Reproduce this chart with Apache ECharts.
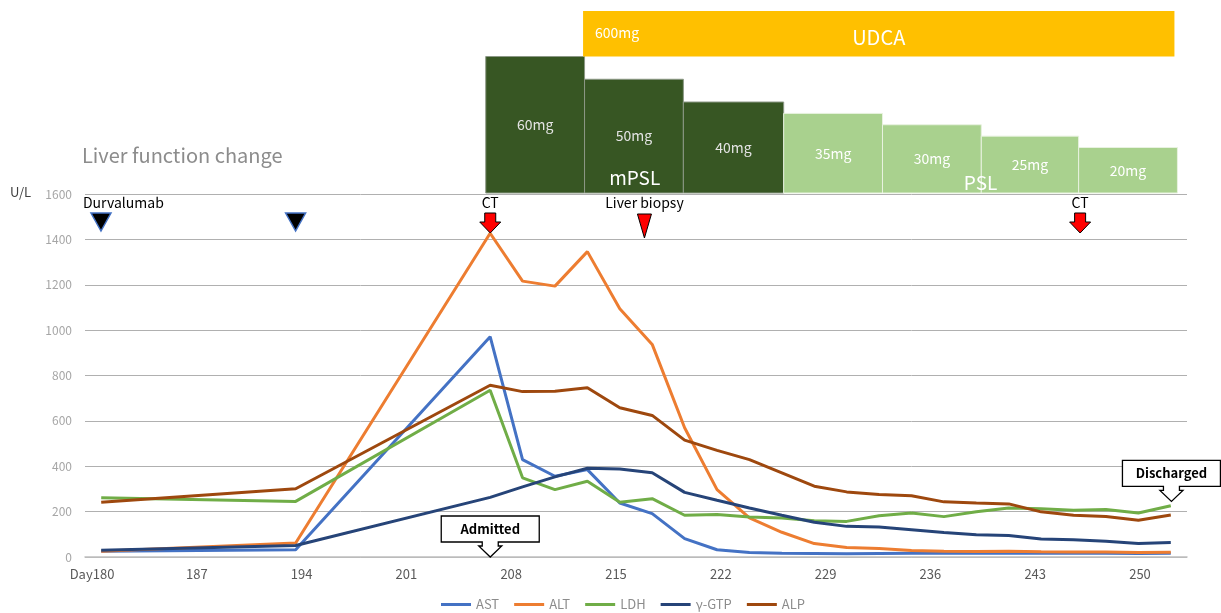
<!DOCTYPE html>
<html>
<head>
<meta charset="utf-8">
<title>Liver function change</title>
<script src="https://cdn.jsdelivr.net/npm/echarts@6.0.0/dist/echarts.min.js"></script>
<style>
html, body { margin: 0; padding: 0; background: #fff; }
#main { width: 1221px; height: 613px; }
</style>
</head>
<body>
<div id="main"></div>
<script>
var FONT = '"Noto Sans CJK JP", "Noto Sans", sans-serif';

// sample points (approx. day of each blood test)
var sampleDays = ['181','183','185','187','189','191','194','196','198','200','202','204',
  '207','209','211','213','215','217','220','222','224','226','228','230','233','235',
  '237','239','241','243','246','248','250','252'];
var xTickLabels = ['Day180','187','194','201','208','215','222','229','236','243','250'];

var ast = [25, null, null, null, null, null, 32, null, null, null, null, null,
  971, 429, 356, 385, 238, 191, 81, 32, 20, 16, 15, 14, 15, 16, 16, 17, 17, 17, 16, 16, 15, 17];
var alt = [25, null, null, null, null, null, 62, null, null, null, null, null,
  1427, 1216, 1194, 1346, 1094, 937, 570, 297, 172, 109, 59, 42, 37, 29, 25, 24, 25, 23, 22, 22, 20, 21];
var ldh = [261, null, null, null, null, null, 245, null, null, null, null, null,
  735, 349, 297, 334, 241, 257, 184, 187, 176, 172, 160, 157, 182, 194, 178, 199, 216, 213, 206, 209, 194, 226];
var gtp = [30, null, null, null, null, null, 51, null, null, null, null, null,
  263, 309, 353, 391, 388, 371, 285, 250, 216, 184, 153, 135, 132, 120, 108, 98, 95, 79, 76, 69, 60, 64];
var alp = [241, null, null, null, null, null, 301, null, null, null, null, null,
  757, 729, 731, 746, 658, 624, 515, 470, 429, 371, 312, 287, 275, 270, 243, 238, 234, 199, 184, 179, 162, 185];

// steroid doses (day from / to, mg)
var doseStart = [206.3, 212.9, 219.5, 226.2, 232.8, 239.4, 245.9];
var doseEnd   = [212.9, 219.5, 226.2, 232.8, 239.4, 245.9, 252.5];
var doseMg    = [60, 50, 40, 35, 30, 25, 20];
var doseDrug  = ['mPSL', 'mPSL', 'mPSL', 'PSL', 'PSL', 'PSL', 'PSL'];
var drugNames = ['mPSL', 'PSL'];
var udcaDays  = [212.8, 252.3];
var udcaMg    = 600;

// events
var eventDays   = [180.6, 193.6, 206.6, 216.9, 246.0];
var eventKinds  = ['drug', 'drug', 'ct', 'biopsy', 'ct'];
var eventLabels = ['Durvalumab', '', 'CT', 'Liver biopsy', 'CT'];
var calloutDays   = [206.6, 252.1];
var calloutLevels = [0, 245];
var calloutLabels = ['Admitted', 'Discharged'];

var colors = ['#4472c4', '#ed7d31', '#70ad47', '#264478', '#9e480e'];
var names = ['AST', 'ALT', 'LDH', 'γ-GTP', 'ALP'];
var values = [ast, alt, ldh, gtp, alp];

var myChart = echarts.init(document.getElementById('main'));

function renderDose(params, api) {
  var i = params.dataIndex;
  var tl = api.coord([api.value(0), api.value(2)]);
  var br = api.coord([api.value(1), 0]);
  var isM = doseDrug[i] === 'mPSL';
  return {
    type: 'group',
    children: [{
      type: 'rect',
      shape: { x: tl[0], y: tl[1], width: br[0] - tl[0], height: br[1] - tl[1] },
      style: { fill: isM ? '#375623' : '#a9d18e', stroke: isM ? '#8c9886' : '#e8f2e0', lineWidth: 1 }
    }, {
      type: 'text',
      x: (tl[0] + br[0]) / 2, y: (tl[1] + br[1]) / 2,
      style: { text: doseMg[i] + 'mg', fill: isM ? '#e4e4e4' : '#ffffff', fontSize: 14,
        fontFamily: FONT, align: 'center', verticalAlign: 'middle' }
    }]
  };
}

function renderDrugName(params, api) {
  var i = params.dataIndex;
  var a = api.coord([api.value(0), 0]);
  var b = api.coord([api.value(1), 0]);
  return {
    type: 'text',
    x: (a[0] + b[0]) / 2, y: a[1] - (i === 0 ? 15 : 10),
    style: { text: drugNames[i], fill: '#ffffff', fontSize: 19, fontFamily: FONT,
      align: 'center', verticalAlign: 'middle' }
  };
}

function renderUdca(params, api) {
  var tl = api.coord([api.value(0), 80]);
  var br = api.coord([api.value(1), 60]);
  return {
    type: 'group',
    children: [{
      type: 'rect',
      shape: { x: tl[0], y: tl[1], width: br[0] - tl[0], height: br[1] - tl[1] },
      style: { fill: '#ffc000' }
    }, {
      type: 'text', x: tl[0] + 12, y: (tl[1] + br[1]) / 2 - 1,
      style: { text: udcaMg + 'mg', fill: '#fff', fontSize: 14, fontFamily: FONT, verticalAlign: 'middle' }
    }, {
      type: 'text', x: (tl[0] + br[0]) / 2, y: (tl[1] + br[1]) / 2 + 4,
      style: { text: 'UDCA', fill: '#fff', fontSize: 20, fontFamily: FONT, align: 'center', verticalAlign: 'middle' }
    }]
  };
}

function renderEvent(params, api) {
  var i = params.dataIndex;
  var p = api.coord([api.value(0), api.value(1)]);
  var x = p[0], y0 = p[1];
  var kind = eventKinds[i];
  var mark;
  if (kind === 'drug') {
    mark = { type: 'polygon', shape: { points: [[x - 10, y0 + 19], [x + 10, y0 + 19], [x, y0 + 37]] },
      style: { fill: '#000', stroke: '#4472c4', lineWidth: 1.5 } };
  } else if (kind === 'ct') {
    mark = { type: 'polygon', shape: { points: [[x - 5.5, y0 + 19], [x + 5.5, y0 + 19], [x + 5.5, y0 + 28],
      [x + 10.5, y0 + 28], [x, y0 + 39], [x - 10.5, y0 + 28], [x - 5.5, y0 + 28]] },
      style: { fill: '#ff0000', stroke: '#000', lineWidth: 1 } };
  } else {
    mark = { type: 'polygon', shape: { points: [[x - 7, y0 + 20], [x + 7, y0 + 20], [x, y0 + 44]] },
      style: { fill: '#ff0000', stroke: '#000', lineWidth: 1 } };
  }
  var children = [mark];
  if (eventLabels[i]) {
    children.push({
      type: 'text', x: kind === 'drug' ? x - 18 : x, y: y0 + 9,
      style: { text: eventLabels[i], fill: '#000', fontSize: 14, fontFamily: FONT,
        align: kind === 'drug' ? 'left' : 'center', verticalAlign: 'middle' }
    });
  }
  return { type: 'group', children: children };
}

function renderCallout(params, api) {
  var i = params.dataIndex;
  var p = api.coord([api.value(0), api.value(1)]);
  var x = p[0], tip = p[1];
  var yB = tip - 15, yT = yB - 26;
  return {
    type: 'group',
    children: [{
      type: 'polygon',
      shape: { points: [[x - 49, yT], [x + 49, yT], [x + 49, yB], [x + 8, yB], [x + 8, yB + 4],
        [x + 11.5, yB + 4], [x, tip], [x - 11.5, yB + 4], [x - 8, yB + 4], [x - 8, yB], [x - 49, yB]] },
      style: { fill: '#fff', stroke: '#000', lineWidth: 1.3 }
    }, {
      type: 'text', x: x, y: (yT + yB) / 2,
      style: { text: calloutLabels[i], fill: '#000', fontSize: 13, fontWeight: 'bold', fontFamily: FONT,
        align: 'center', verticalAlign: 'middle' }
    }]
  };
}

var lineSeries = names.map(function (n, k) {
  return {
    name: n, type: 'line', xAxisIndex: 0, yAxisIndex: 0,
    data: values[k], connectNulls: true, symbol: 'none',
    lineStyle: { color: colors[k], width: 3 }, itemStyle: { color: colors[k] }
  };
});

var option = {
  animation: false,
  backgroundColor: '#fff',
  textStyle: { fontFamily: FONT },
  title: {
    text: 'Liver function change', left: 77, top: 140,
    textStyle: { color: '#8c8c8c', fontSize: 20, fontWeight: 'normal', fontFamily: FONT }
  },
  legend: {
    data: names, left: 436, top: 593, icon: 'rect', itemWidth: 30, itemHeight: 3, itemGap: 15,
    textStyle: { color: '#8c8c8c', fontSize: 13, fontFamily: FONT }
  },
  graphic: [{
    type: 'text', left: 10, top: 186,
    style: { text: 'U/L', fill: '#404040', fontSize: 13, fontFamily: FONT }
  }],
  grid: [
    { left: 85, right: 34, top: 194, bottom: 56 },
    { left: 92, right: 81, top: 194, bottom: 56 },
    { left: 92, right: 81, top: 11, bottom: 420 }
  ],
  xAxis: [{
    gridIndex: 0, type: 'category', data: sampleDays, boundaryGap: true,
    axisLine: { lineStyle: { color: '#bfbfbf', width: 1.5 } },
    axisTick: { show: false }, axisLabel: { show: false }
  }, {
    gridIndex: 1, type: 'value', min: 180, max: 250, interval: 7,
    axisLine: { show: false }, axisTick: { show: false }, splitLine: { show: false },
    axisLabel: {
      color: '#595959', fontSize: 13, margin: 11, fontFamily: FONT,
      formatter: function (v) { return xTickLabels[Math.round((v - 180) / 7)]; }
    }
  }, {
    gridIndex: 2, type: 'value', min: 180, max: 250, show: false
  }],
  yAxis: [{
    gridIndex: 0, type: 'value', min: 0, max: 1600, interval: 200,
    axisLine: { show: false }, axisTick: { show: false },
    axisLabel: { color: '#a6a6a6', fontSize: 12, margin: 13, fontFamily: FONT,
      formatter: function (v) { return String(v); } },
    splitLine: { lineStyle: { color: '#b0b0b0', width: 1 } }
  }, {
    gridIndex: 1, type: 'value', min: 0, max: 1600, show: false
  }, {
    gridIndex: 2, type: 'value', min: 0, max: 80, show: false
  }],
  series: lineSeries.concat([{
    type: 'custom', name: 'dose', xAxisIndex: 2, yAxisIndex: 2, renderItem: renderDose,
    data: doseStart.map(function (s, i) { return [s, doseEnd[i], doseMg[i]]; }),
    encode: { x: [0, 1], y: 2 }, silent: true, z: 1
  }, {
    type: 'custom', name: 'drug', xAxisIndex: 2, yAxisIndex: 2, renderItem: renderDrugName,
    data: drugNames.map(function (d) {
      var s = [], e = [];
      doseDrug.forEach(function (x, i) { if (x === d) { s.push(doseStart[i]); e.push(doseEnd[i]); } });
      return [Math.min.apply(null, s), Math.max.apply(null, e)];
    }),
    encode: { x: [0, 1] }, silent: true, z: 2
  }, {
    type: 'custom', name: 'udca', xAxisIndex: 2, yAxisIndex: 2, renderItem: renderUdca,
    data: [udcaDays], encode: { x: [0, 1] }, silent: true, z: 2
  }, {
    type: 'custom', name: 'events', xAxisIndex: 1, yAxisIndex: 1, renderItem: renderEvent,
    data: eventDays.map(function (d) { return [d, 1600]; }), silent: true, z: 5
  }, {
    type: 'custom', name: 'callouts', xAxisIndex: 1, yAxisIndex: 1, renderItem: renderCallout,
    data: calloutDays.map(function (d, i) { return [d, calloutLevels[i]]; }), silent: true, z: 6
  }])
};

myChart.setOption(option);
</script>
</body>
</html>
